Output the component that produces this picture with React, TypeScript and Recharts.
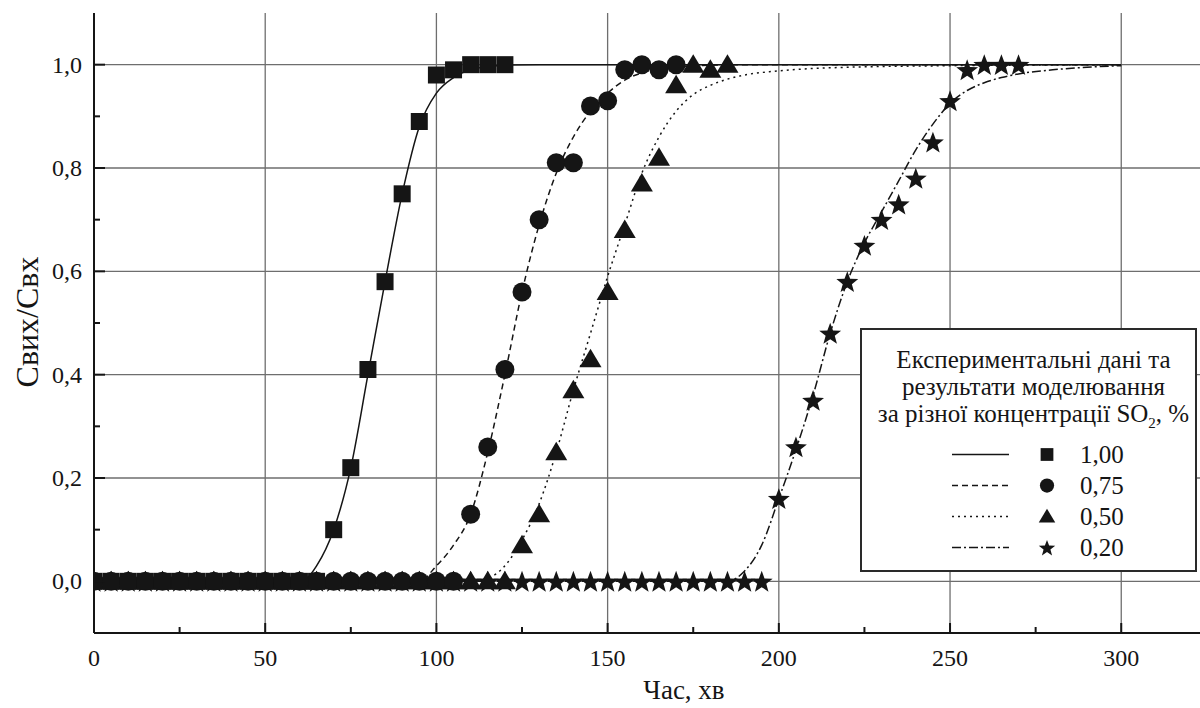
import React from "react";
import {
	ComposedChart,
	Line,
	Scatter,
	XAxis,
	YAxis,
	CartesianGrid,
	Legend,
} from "recharts";

const FONT = '"Liberation Serif", "Times New Roman", serif';
const INK = "#151515";

// sampling times of the experiment, min
const expTimes = [
	0, 5, 10, 15, 20, 25, 30, 35, 40, 45, 50, 55, 60, 65, 70, 75, 80, 85, 90, 95,
	100, 105, 110, 115, 120, 125, 130, 135, 140, 145, 150, 155, 160, 165, 170,
	175, 180, 185, 190, 195, 200, 205, 210, 215, 220, 225, 230, 235, 240, 245,
	250, 255, 260, 265, 270,
];

// measured Cвих/Cвх
const exp100 = [
	0, 0, 0, 0, 0, 0, 0, 0, 0, 0, 0, 0, 0, 0, 0.1, 0.22, 0.41, 0.58, 0.75, 0.89,
	0.98, 0.99, 1.0, 1.0, 1.0,
];
const exp075 = [
	0, 0, 0, 0, 0, 0, 0, 0, 0, 0, 0, 0, 0, 0, 0, 0, 0, 0, 0, 0, 0, 0, 0.13, 0.26,
	0.41, 0.56, 0.7, 0.81, 0.81, 0.92, 0.93, 0.99, 1.0, 0.99, 1.0,
];
const exp050 = [
	0, 0, 0, 0, 0, 0, 0, 0, 0, 0, 0, 0, 0, 0, 0, 0, 0, 0, 0, 0, 0, 0, 0, 0, 0,
	0.07, 0.13, 0.25, 0.37, 0.43, 0.56, 0.68, 0.77, 0.82, 0.96, 1.0, 0.99, 1.0,
];
const exp020 = [
	0, 0, 0, 0, 0, 0, 0, 0, 0, 0, 0, 0, 0, 0, 0, 0, 0, 0, 0, 0, 0, 0, 0, 0, 0, 0,
	0, 0, 0, 0, 0, 0, 0, 0, 0, 0, 0, 0, 0, 0, 0.16, 0.26, 0.35, 0.48, 0.58, 0.65,
	0.7, 0.73, 0.78, 0.85, 0.93, 0.99, 1.0, 1.0, 1.0,
];

// model curves
const model100Time = [0, 60, 62, 65, 70, 75, 80, 85, 90, 95, 100, 105, 110, 115, 120, 130, 300];
const model100 = [0, 0, 0.005, 0.03, 0.1, 0.22, 0.4, 0.58, 0.75, 0.88, 0.945, 0.975, 0.99, 0.996, 0.999, 1.0, 1.0];

const model075Time = [0, 95, 100, 105, 110, 115, 120, 125, 130, 135, 140, 145, 150, 155, 160, 165, 170, 180, 190, 300];
const model075 = [0, 0, 0.03, 0.07, 0.13, 0.25, 0.4, 0.56, 0.69, 0.79, 0.86, 0.91, 0.945, 0.97, 0.984, 0.992, 0.996, 0.999, 1.0, 1.0];

const model050Time = [0, 113, 115, 120, 125, 130, 135, 140, 145, 150, 155, 160, 165, 170, 175, 180, 185, 190, 200, 220, 250, 300];
const model050 = [0, 0, 0.005, 0.03, 0.08, 0.15, 0.25, 0.37, 0.48, 0.59, 0.69, 0.79, 0.86, 0.91, 0.942, 0.96, 0.972, 0.98, 0.988, 0.995, 0.998, 1.0];

const model020Time = [0, 185, 190, 195, 200, 205, 210, 215, 220, 225, 230, 235, 240, 245, 250, 255, 260, 265, 270, 280, 290, 300];
const model020 = [0, 0, 0.02, 0.07, 0.16, 0.255, 0.36, 0.48, 0.58, 0.655, 0.715, 0.775, 0.835, 0.885, 0.925, 0.95, 0.965, 0.975, 0.982, 0.99, 0.995, 0.998];

const xTicks = [0, 25, 50, 75, 100, 125, 150, 175, 200, 225, 250, 275, 300];
const yTicks = [0, 0.1, 0.2, 0.3, 0.4, 0.5, 0.6, 0.7, 0.8, 0.9, 1.0];
const gridX = [50, 100, 150, 200, 250, 300];
const gridY = [0, 0.2, 0.4, 0.6, 0.8, 1.0];

const toPoints = (times: number[], vals: number[]) =>
	vals.map((c, i) => ({ t: times[i], c }));

type Shape = "square" | "circle" | "triangle" | "star";

function Marker({ cx, cy, shape, s = 1 }: { cx: number; cy: number; shape: Shape; s?: number }) {
	if (shape === "square") {
		const h = 8.5 * s;
		return <rect x={cx - h} y={cy - h} width={h * 2} height={h * 2} fill={INK} />;
	}
	if (shape === "circle") return <circle cx={cx} cy={cy} r={9.5 * s} fill={INK} />;
	if (shape === "triangle") {
		const pts = [
			[cx, cy - 10.5 * s],
			[cx + 11 * s, cy + 8 * s],
			[cx - 11 * s, cy + 8 * s],
		];
		return <polygon points={pts.map((p) => p.join(",")).join(" ")} fill={INK} />;
	}
	const pts: string[] = [];
	for (let k = 0; k < 10; k++) {
		const r = (k % 2 === 0 ? 11.5 : 4.8) * s;
		const a = -Math.PI / 2 + (k * Math.PI) / 5;
		pts.push(`${cx + r * Math.cos(a)},${cy + 1 + r * Math.sin(a)}`);
	}
	return <polygon points={pts.join(" ")} fill={INK} />;
}

const series = [
	{ key: "1,00", exp: exp100, mt: model100Time, mc: model100, dash: undefined, shape: "square" as Shape },
	{ key: "0,75", exp: exp075, mt: model075Time, mc: model075, dash: "6 4", shape: "circle" as Shape },
	{ key: "0,50", exp: exp050, mt: model050Time, mc: model050, dash: "2 4", shape: "triangle" as Shape },
	{ key: "0,20", exp: exp020, mt: model020Time, mc: model020, dash: "9 3 2 3", shape: "star" as Shape },
];

const fmt = (v: number) => v.toFixed(1).replace(".", ",");

const BottomTick = (props: any) => {
	const { x, y, payload } = props;
	const major = payload.value % 50 === 0;
	return (
		<g>
			<line x1={x} x2={x} y1={y} y2={y - (major ? 10 : 6)} stroke={INK} strokeWidth={2} />
			{major && (
				<text x={x} y={y + 25} textAnchor="middle" dominantBaseline="central" fontFamily={FONT} fontSize={24} fill={INK}>
					{payload.value}
				</text>
			)}
		</g>
	);
};

const TopTick = (props: any) => {
	const { x, y, payload } = props;
	const major = payload.value % 50 === 0;
	return <line x1={x} x2={x} y1={y} y2={y + (major ? 10 : 6)} stroke={INK} strokeWidth={2} />;
};

const LeftTick = (props: any) => {
	const { x, y, payload } = props;
	const major = Math.round(payload.value * 10) % 2 === 0;
	return (
		<g>
			<line x1={x} x2={x + (major ? 11 : 6)} y1={y} y2={y} stroke={INK} strokeWidth={2} />
			{major && (
				<text x={x - 12} y={y} textAnchor="end" dominantBaseline="central" fontFamily={FONT} fontSize={24} fill={INK}>
					{fmt(payload.value)}
				</text>
			)}
		</g>
	);
};

const LegendBox = () => (
	<div
		style={{
			boxSizing: "border-box",
			width: 337,
			height: 244,
			border: "2px solid #2a2a2a",
			background: "#fff",
			fontFamily: FONT,
			color: INK,
			paddingTop: 16,
			paddingLeft: 10,
		}}
	>
		<div style={{ textAlign: "center", fontSize: 25, lineHeight: "27px" }}>
			<div>Експериментальні дані та</div>
			<div>результати моделювання</div>
			<div>
				за різної концентрації SO<sub style={{ fontSize: 15, lineHeight: 0 }}>2</sub>, %
			</div>
		</div>
		<div style={{ marginTop: 12 }}>
			{series.map((s) => (
				<div key={s.key} style={{ display: "flex", alignItems: "center", height: 31 }}>
					<svg width={208} height={31} style={{ marginLeft: -10 }}>
						<line x1={90} x2={147} y1={15.5} y2={15.5} stroke={INK} strokeWidth={1.5} strokeDasharray={s.dash} />
						<Marker cx={185} cy={15.5} shape={s.shape} s={0.75} />
					</svg>
					<span style={{ fontSize: 25, marginLeft: 10 }}>{s.key}</span>
				</div>
			))}
		</div>
	</div>
);

export default function App() {
	return (
		<div style={{ position: "absolute", left: 0, top: 0, width: 1200, height: 708, overflow: "hidden", background: "#fff" }}>
			<ComposedChart width={1200} height={708} margin={{ top: 13, right: 0, bottom: 0, left: 0 }}>
				<CartesianGrid
					xAxisId="b"
					yAxisId="l"
					stroke="#6e6e6e"
					strokeWidth={1.3}
					verticalValues={gridX}
					horizontalValues={gridY}
				/>
				<XAxis
					xAxisId="b"
					type="number"
					dataKey="t"
					domain={[0, 323]}
					allowDataOverflow
					ticks={xTicks}
					interval={0}
					tickSize={0}
					tickMargin={0}
					tickLine={false}
					tick={<BottomTick />}
					axisLine={{ stroke: INK, strokeWidth: 2 }}
					height={75}
					label={{
						content: () => (
							<text x={684} y={690} textAnchor="middle" dominantBaseline="central" fontFamily={FONT} fontSize={27} fill={INK}>
								Час, хв
							</text>
						),
					}}
				/>
				<XAxis
					xAxisId="t"
					orientation="top"
					type="number"
					dataKey="t"
					domain={[0, 323]}
					allowDataOverflow
					ticks={xTicks}
					interval={0}
					tickSize={0}
					tickMargin={0}
					tickLine={false}
					tick={<TopTick />}
					axisLine={{ stroke: INK, strokeWidth: 2 }}
					height={0}
				/>
				<YAxis
					yAxisId="l"
					type="number"
					dataKey="c"
					domain={[-0.1, 1.1]}
					allowDataOverflow
					ticks={yTicks}
					interval={0}
					tickSize={0}
					tickMargin={0}
					tickLine={false}
					tick={<LeftTick />}
					axisLine={{ stroke: INK, strokeWidth: 2 }}
					width={94}
					label={{
						content: () => (
							<text
								x={27}
								y={322}
								textAnchor="middle"
								dominantBaseline="central"
								transform="rotate(-90 27 322)"
								fontFamily={FONT}
								fontSize={32}
								fill={INK}
							>
								Свих/Свх
							</text>
						),
					}}
				/>
				{series.map((s) => (
					<Line
						key={"m" + s.key}
						xAxisId="b"
						yAxisId="l"
						data={toPoints(s.mt, s.mc)}
						dataKey="c"
						type="monotone"
						stroke={INK}
						strokeWidth={1.5}
						strokeDasharray={s.dash}
						dot={false}
						activeDot={false}
						isAnimationActive={false}
						legendType="none"
					/>
				))}
				{[...series].reverse().map((s) => (
					<Scatter
						key={"e" + s.key}
						xAxisId="b"
						yAxisId="l"
						data={toPoints(expTimes, s.exp)}
						dataKey="c"
						isAnimationActive={false}
						shape={(p: any) => <Marker cx={p.cx} cy={p.cy} shape={s.shape} />}
					/>
				))}
				<Legend
					layout="horizontal"
					verticalAlign="middle"
					align="center"
					content={() => <LegendBox />}
					wrapperStyle={{ left: 860, top: 328, width: 337, height: 244 }}
				/>
			</ComposedChart>
		</div>
	);
}
